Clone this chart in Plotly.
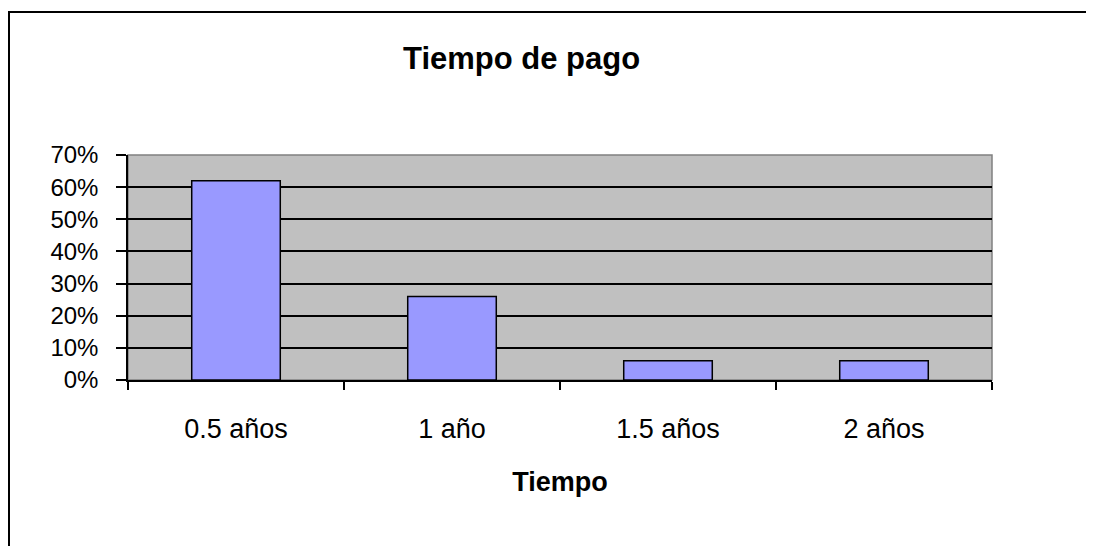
import plotly.graph_objects as go

categories = ["0.5 años", "1 año", "1.5 años", "2 años"]
shares = [0.62, 0.26, 0.06, 0.06]
y_ticks = [0, 0.1, 0.2, 0.3, 0.4, 0.5, 0.6, 0.7]

BAR_COLOR = "#9999FF"
PLOT_BG = "#C0C0C0"
FONT = "Liberation Sans, Arial, sans-serif"

# the page puts the figure 8px in from the top-left corner, so the figure
# is 8px smaller and every pixel position below is in figure coordinates
OFF = 8
W, H = 1094 - OFF, 546 - OFF
L, T = 128 - OFF, 155 - OFF
R, B = W - (992 - OFF), H - (380 - OFF)
PW, PH = W - L - R, H - T - B


def px_to_paper(x, y):
    # page pixels -> paper coordinates
    x, y = x - OFF, y - OFF
    return (x - L) / PW, (H - B - y) / PH


fig = go.Figure(
    go.Bar(
        x=categories,
        y=shares,
        width=0.41,
        marker=dict(color=BAR_COLOR, line=dict(color="black", width=1.5)),
    )
)

fig.update_xaxes(
    type="category",
    showline=True,
    linecolor="black",
    linewidth=1.5,
    ticks="outside",
    tickson="boundaries",
    ticklen=8,
    tickcolor="black",
    tickwidth=1.5,
    ticklabelstandoff=24,
    tickfont=dict(family=FONT, size=27, color="black"),
    title=dict(
        text="<b>Tiempo</b>",
        font=dict(family=FONT, size=27, color="black"),
        standoff=29,
    ),
    showgrid=False,
)
fig.update_yaxes(
    range=[0, 0.7],
    tickvals=y_ticks,
    tickformat=".0%",
    showline=True,
    linecolor="black",
    linewidth=1.5,
    ticks="outside",
    ticklen=10,
    tickcolor="black",
    tickwidth=1.5,
    ticklabelstandoff=13,
    tickfont=dict(family=FONT, size=24, color="black"),
    showgrid=True,
    gridcolor="black",
    gridwidth=1.5,
    zeroline=False,
)

bx0, by0 = px_to_paper(OFF + 1, 12)
bx1, by1 = px_to_paper(1110, 560)
tx, ty = px_to_paper(521, 58)

fig.update_layout(
    width=W,
    height=H,
    margin=dict(l=L, r=R, t=T, b=B),
    plot_bgcolor=PLOT_BG,
    paper_bgcolor="white",
    showlegend=False,
    shapes=[
        # grey plot-area frame (right/top edges)
        dict(type="rect", xref="paper", yref="paper", x0=0, y0=0, x1=1, y1=1,
             line=dict(color="#808080", width=1.5), layer="below"),
        # outer chart border
        dict(type="rect", xref="paper", yref="paper", x0=bx0, y0=by1, x1=bx1, y1=by0,
             line=dict(color="black", width=2)),
    ],
    annotations=[
        dict(text="<b>Tiempo de pago</b>", xref="paper", yref="paper",
             x=tx, y=ty, showarrow=False, xanchor="center", yanchor="middle",
             font=dict(family=FONT, size=31, color="black")),
    ],
)

fig.write_html("out.html")
